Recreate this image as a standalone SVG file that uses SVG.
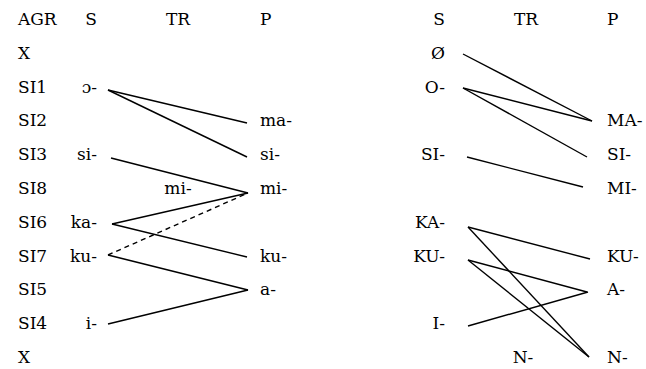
<svg xmlns="http://www.w3.org/2000/svg" width="646" height="369" viewBox="0 0 646 369">
<style>
text{font-family:"DejaVu Serif","Liberation Serif",serif;font-size:17px;fill:#000}
.r{text-anchor:end}
.m{text-anchor:middle}
.c line{stroke:#000;stroke-width:1.4}
.d{stroke-dasharray:5,4}
</style>
<rect width="646" height="369" fill="#fff"/>
<g id="agr">
<text x="18" y="25">AGR</text>
<text x="18" y="59">X</text>
<text x="18" y="93">SI1</text>
<text x="18" y="126">SI2</text>
<text x="18" y="160">SI3</text>
<text x="18" y="194">SI8</text>
<text x="18" y="228">SI6</text>
<text x="18" y="262">SI7</text>
<text x="18" y="295">SI5</text>
<text x="18" y="329">SI4</text>
<text x="18" y="363">X</text>
</g>
<g id="left-s">
<text class="r" x="97" y="25">S</text>
<text class="r" x="97" y="93">ɔ-</text>
<text class="r" x="97" y="160">si-</text>
<text class="r" x="97" y="228">ka-</text>
<text class="r" x="97" y="262">ku-</text>
<text class="r" x="97" y="329">i-</text>
</g>
<g id="left-tr">
<text class="m" x="178" y="25">TR</text>
<text class="m" x="178" y="194">mi-</text>
</g>
<g id="left-p">
<text x="260" y="25">P</text>
<text x="260" y="126">ma-</text>
<text x="260" y="160">si-</text>
<text x="260" y="194">mi-</text>
<text x="260" y="262">ku-</text>
<text x="260" y="295">a-</text>
</g>
<g id="right-s">
<text class="r" x="445" y="25">S</text>
<text class="r" x="445" y="59">Ø</text>
<text class="r" x="445" y="93">O-</text>
<text class="r" x="445" y="160">SI-</text>
<text class="r" x="445" y="228">KA-</text>
<text class="r" x="445" y="262">KU-</text>
<text class="r" x="445" y="329">I-</text>
</g>
<g id="right-tr">
<text class="m" x="526" y="25">TR</text>
<text class="m" x="523" y="363">N-</text>
</g>
<g id="right-p">
<text x="607" y="25">P</text>
<text x="607" y="126">MA-</text>
<text x="607" y="160">SI-</text>
<text x="607" y="194">MI-</text>
<text x="607" y="262">KU-</text>
<text x="607" y="295">A-</text>
<text x="607" y="363">N-</text>
</g>
<g id="connectors" class="c">
<line x1="108" y1="90" x2="247" y2="123"/>
<line x1="108" y1="90" x2="247" y2="157"/>
<line x1="111" y1="158" x2="248" y2="193"/>
<line x1="112" y1="224" x2="248" y2="193"/>
<line x1="112" y1="224" x2="247" y2="257"/>
<line class="d" x1="108" y1="255" x2="248" y2="193"/>
<line x1="108" y1="255" x2="248" y2="290"/>
<line x1="108" y1="324" x2="248" y2="290"/>
<line x1="463" y1="54" x2="592" y2="121"/>
<line x1="463" y1="88" x2="592" y2="121"/>
<line x1="463" y1="88" x2="587" y2="157"/>
<line x1="467" y1="157" x2="583" y2="187"/>
<line x1="468" y1="227" x2="590" y2="259"/>
<line x1="468" y1="227" x2="589" y2="357"/>
<line x1="468" y1="260" x2="587" y2="292"/>
<line x1="468" y1="260" x2="589" y2="357"/>
<line x1="468" y1="326" x2="588" y2="292"/>
</g>
</svg>
